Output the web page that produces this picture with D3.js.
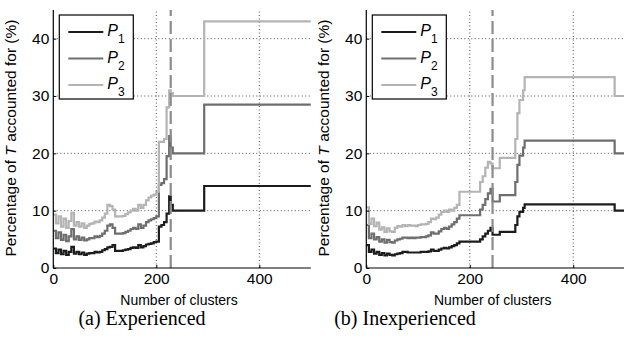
<!DOCTYPE html>
<html>
<head>
<meta charset="utf-8">
<script src="https://cdn.jsdelivr.net/npm/d3@7"></script>
<style>
  body { margin: 0; background: #fff; }
  svg { display: block; }
  text { font-family: "Liberation Sans", Arial, sans-serif; fill: #000; }
</style>
</head>
<body>
<svg id="chart" width="624" height="345"></svg>
<script>
// Panel (a) Experienced
const clustersA = [0, 5, 10, 15, 20, 25, 30, 35, 40, 45, 50, 55, 60, 65, 70, 75, 80, 85, 90, 95,
  100, 105, 110, 115, 120, 125, 130, 135, 140, 145, 150, 155, 160, 165, 170, 175, 180, 185, 190, 195,
  200, 205, 210, 215, 220, 225, 228, 232, 293, 500];
const p1A = [3.4, 2.6, 3.2, 2.4, 3.0, 2.3, 2.8, 3.7, 2.5, 2.8, 2.4, 2.7, 2.3, 2.5, 2.6, 2.6, 2.8, 2.7, 2.8, 3.1,
  3.3, 3.6, 3.7, 4.0, 3.0, 3.0, 3.0, 3.1, 3.2, 3.3, 3.5, 3.6, 3.5, 4.0, 3.6, 3.8, 4.1, 4.2, 4.3, 4.5,
  4.6, 7.2, 7.5, 8.0, 9.5, 12.5, 11.0, 10.0, 14.3, 14.3];
const p2A = [6.5, 5.2, 6.2, 4.9, 5.8, 4.7, 5.5, 6.8, 5.0, 5.5, 4.9, 5.3, 4.8, 5.0, 5.2, 5.2, 5.5, 5.4, 5.6, 6.0,
  6.5, 7.4, 7.6, 7.0, 6.0, 6.0, 6.0, 6.1, 6.3, 6.5, 6.8, 7.0, 6.8, 7.6, 7.0, 7.4, 8.0, 8.3, 8.5, 8.7,
  9.0, 14.5, 14.8, 15.5, 19.5, 23.0, 21.0, 20.0, 28.5, 28.5];
const p3A = [9.3, 7.8, 9.0, 7.2, 8.6, 7.0, 8.2, 9.6, 7.4, 8.0, 7.2, 7.8, 7.0, 7.4, 7.7, 7.8, 8.1, 8.0, 8.3, 8.8,
  9.5, 11.0, 10.8, 10.2, 9.0, 9.0, 9.0, 9.1, 9.4, 9.7, 10.0, 10.3, 10.0, 11.0, 10.5, 11.0, 11.8, 12.3, 12.6, 12.8,
  13.3, 22.0, 22.0, 22.5, 28.0, 31.0, 30.5, 30.0, 43.0, 43.0];
const markerA = 228;

// Panel (b) Inexperienced
const clustersB = [0, 5, 10, 15, 20, 25, 30, 35, 40, 45, 50, 55, 60, 65, 70, 75, 80, 85, 90, 95,
  100, 105, 110, 115, 120, 125, 130, 135, 140, 145, 150, 155, 160, 165, 170, 175, 180,
  220, 225, 230, 235, 240, 244, 258, 288, 292, 296, 303, 306, 480, 500];
const p1B = [4.0, 2.8, 3.2, 2.5, 2.8, 2.3, 2.6, 2.2, 2.5, 2.3, 2.2, 2.4, 2.5, 2.6, 2.8, 2.8, 2.7, 2.7, 2.7, 2.7,
  2.7, 2.8, 2.8, 2.8, 2.9, 3.2, 3.0, 3.0, 3.2, 3.4, 3.5, 3.4, 3.6, 3.8, 4.0, 4.3, 4.6,
  5.0, 5.5, 6.0, 6.5, 7.0, 5.8, 6.3, 7.5, 9.0, 9.8, 10.5, 11.1, 10.0, 10.0];
const p2B = [7.5, 5.2, 6.0, 5.0, 5.4, 4.6, 5.0, 4.4, 4.9, 4.5, 4.4, 4.8, 5.0, 5.1, 5.3, 5.3, 5.2, 5.3, 5.2, 5.3,
  5.3, 5.4, 5.4, 5.5, 5.7, 6.2, 6.0, 6.0, 6.4, 6.8, 7.0, 6.8, 7.2, 7.6, 8.0, 8.6, 9.2,
  10.2, 11.0, 12.0, 13.0, 13.8, 11.6, 12.7, 15.0, 18.0, 19.6, 21.0, 22.2, 20.0, 20.0];
const p3B = [10.6, 7.7, 8.6, 7.3, 7.9, 6.7, 7.1, 6.3, 6.9, 6.4, 6.3, 7.0, 7.3, 7.2, 7.5, 7.3, 7.5, 7.4, 7.4, 7.3,
  7.5, 7.6, 7.6, 7.7, 8.0, 8.6, 8.5, 8.8, 9.3, 9.8, 10.0, 9.8, 10.2, 10.0, 10.5, 11.0, 13.3,
  15.0, 16.0, 17.5, 18.5, 18.2, 17.4, 19.2, 22.5, 27.0, 29.3, 31.0, 33.3, 30.0, 30.0];
const markerB = 244;

const seriesNames = ["1", "2", "3"];
const seriesColors = ["#1c1c1c", "#6e6e6e", "#b4b4b4"];
const xTicks = [0, 200, 400];
const yTicks = [0, 10, 20, 30, 40];

const svg = d3.select("#chart");

function drawPanel(opts) {
  const x = d3.scaleLinear().domain([0, 500]).range([opts.left, opts.right]);
  const y = d3.scaleLinear().domain([0, 45]).range([268, 10]);
  const g = svg.append("g");

  // dotted grid
  g.selectAll(".gx").data(xTicks.filter(d => d > 0)).join("line")
    .attr("x1", d => x(d)).attr("x2", d => x(d))
    .attr("y1", y(0)).attr("y2", y(45))
    .attr("stroke", "#222").attr("stroke-width", 0.8).attr("stroke-dasharray", "1,2.5");
  g.selectAll(".gy").data(yTicks.filter(d => d > 0)).join("line")
    .attr("x1", x(0)).attr("x2", x(500))
    .attr("y1", d => y(d)).attr("y2", d => y(d))
    .attr("stroke", "#222").attr("stroke-width", 0.8).attr("stroke-dasharray", "1,2.5");

  // series
  const line = d3.line().curve(d3.curveStepAfter)
    .x(d => x(d[0])).y(d => y(d[1]));
  opts.series.forEach((vals, i) => {
    g.append("path")
      .datum(opts.clusters.map((c, j) => [c, vals[j]]))
      .attr("d", line)
      .attr("fill", "none")
      .attr("stroke", seriesColors[i])
      .attr("stroke-width", 2.2)
      .attr("stroke-linejoin", "miter");
  });

  // dashed marker
  g.append("line")
    .attr("x1", x(opts.marker)).attr("x2", x(opts.marker))
    .attr("y1", y(0)).attr("y2", y(45))
    .attr("stroke", "#8c8c8c").attr("stroke-width", 2.2).attr("stroke-dasharray", "13,5");

  // axes
  const xAxis = d3.axisBottom(x).tickValues(xTicks).tickSize(-3).tickPadding(5);
  const yAxis = d3.axisLeft(y).tickValues(yTicks).tickSize(-3).tickPadding(4);
  const gx = g.append("g").attr("transform", `translate(0,${y(0)})`).call(xAxis);
  const gy = g.append("g").attr("transform", `translate(${x(0)},0)`).call(yAxis);
  [gx, gy].forEach(a => {
    a.select(".domain").attr("stroke", "#000").attr("stroke-width", 1.2).attr("d",
      a === gx ? `M${x(0)},0H${x(500)}` : `M0,${y(0)}V${y(45)}`);
    a.selectAll("text").style("font-size", "15.5px").attr("fill", "#000");
    a.selectAll(".tick line").attr("stroke", "#000");
  });

  // axis labels
  g.append("text")
    .attr("x", (opts.left + opts.right) / 2 - 3).attr("y", 305)
    .attr("text-anchor", "middle").style("font-size", "14px")
    .text("Number of clusters");
  const yl = g.append("text")
    .attr("transform", `translate(${opts.left - 37},138) rotate(-90)`)
    .attr("text-anchor", "middle").style("font-size", "15.5px");
  yl.append("tspan").text("Percentage of ");
  yl.append("tspan").style("font-style", "italic").text("T");
  yl.append("tspan").text(" accounted for (%)");

  // legend
  const lg = g.append("g").attr("transform", `translate(${opts.left + 6},15)`);
  lg.append("rect").attr("width", 74).attr("height", 84)
    .attr("fill", "#fff").attr("stroke", "#000").attr("stroke-width", 1.2);
  seriesNames.forEach((n, i) => {
    const yy = 17 + i * 26.5;
    lg.append("line").attr("x1", 9).attr("x2", 44).attr("y1", yy).attr("y2", yy)
      .attr("stroke", seriesColors[i]).attr("stroke-width", 2.2);
    const t = lg.append("text").attr("x", 48).attr("y", yy + 4).style("font-size", "16px");
    t.append("tspan").style("font-style", "italic").text("P");
    t.append("tspan").attr("dy", 7).style("font-size", "12px").text(n);
  });

  // caption
  svg.append("text")
    .attr("x", opts.caption[1]).attr("y", 325)
    .attr("text-anchor", "middle")
    .style("font-family", "'Liberation Serif', 'Times New Roman', serif")
    .style("font-size", "20px")
    .text(opts.caption[0]);
}

drawPanel({ left: 53.3, right: 310.8, clusters: clustersA, series: [p1A, p2A, p3A],
  marker: markerA, caption: ["(a) Experienced", 142] });
drawPanel({ left: 366.3, right: 625, clusters: clustersB, series: [p1B, p2B, p3B],
  marker: markerB, caption: ["(b) Inexperienced", 405] });
</script>
</body>
</html>
